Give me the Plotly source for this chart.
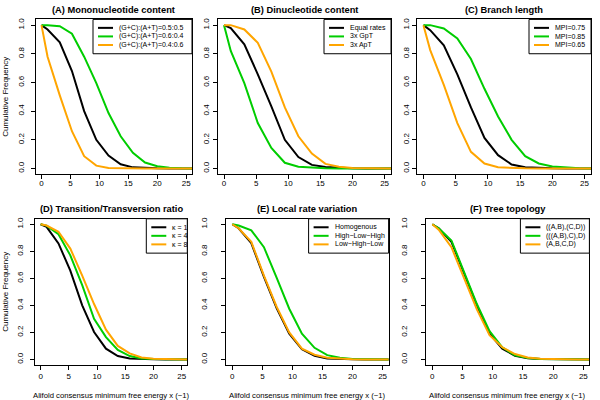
import plotly.graph_objects as go

# ---------------- data ----------------
X = [0, 1.05, 3.16, 5.26, 7.37, 9.47, 11.58, 13.68, 15.79, 17.89, 20.0, 22.1, 24.2, 26.3]

titles = ["(A) Mononucleotide content", "(B) Dinucleotide content", "(C) Branch length",
          "(D) Transition/Transversion ratio", "(E) Local rate variation", "(F) Tree topology"]

labels_A = ["(G+C):(A+T)=0.5:0.5", "(G+C):(A+T)=0.6:0.4", "(G+C):(A+T)=0.4:0.6"]
A_black = [1.0, 0.97, 0.88, 0.68, 0.40, 0.20, 0.09, 0.03, 0.008, 0.003, 0.001, 0, 0, 0]
A_green = [1.0, 1.0, 0.993, 0.94, 0.78, 0.595, 0.387, 0.225, 0.11, 0.042, 0.016, 0.006, 0.002, 0]
A_orange = [1.0, 0.78, 0.51, 0.26, 0.086, 0.02, 0.004, 0.001, 0, 0, 0, 0, 0, 0]

labels_B = ["Equal rates", "3x GpT", "3x ApT"]
B_black = [1.0, 0.98, 0.866, 0.657, 0.433, 0.20, 0.08, 0.025, 0.01, 0.004, 0.001, 0, 0, 0]
B_green = [1.0, 0.82, 0.595, 0.317, 0.143, 0.04, 0.012, 0.004, 0.001, 0, 0, 0, 0, 0]
B_orange = [1.0, 1.0, 0.97, 0.877, 0.676, 0.426, 0.225, 0.104, 0.032, 0.012, 0.004, 0.001, 0, 0]

labels_C = ["MPI=0.75", "MPI=0.85", "MPI=0.65"]
C_black = [1.0, 0.965, 0.86, 0.657, 0.426, 0.213, 0.093, 0.028, 0.009, 0.004, 0.001, 0, 0, 0]
C_green = [1.0, 1.0, 0.977, 0.907, 0.764, 0.556, 0.363, 0.20, 0.086, 0.035, 0.014, 0.005, 0.001, 0]
C_orange = [1.0, 0.826, 0.583, 0.317, 0.116, 0.035, 0.009, 0.003, 0.001, 0, 0, 0, 0, 0]

labels_D = ["\u03ba = 1", "\u03ba = 4", "\u03ba = 8"]
D_black = [1.0, 0.98, 0.858, 0.657, 0.40, 0.203, 0.08, 0.025, 0.007, 0.002, 0.001, 0, 0, 0]
D_green = [1.0, 0.99, 0.926, 0.77, 0.55, 0.30, 0.165, 0.07, 0.025, 0.008, 0.003, 0.001, 0, 0]
D_orange = [1.0, 0.99, 0.944, 0.82, 0.62, 0.41, 0.22, 0.10, 0.045, 0.015, 0.005, 0.002, 0, 0]

labels_E = ["Homogenous", "High\u2212Low\u2212High", "Low\u2212High\u2212Low"]
E_black = [1.0, 0.97, 0.86, 0.61, 0.38, 0.19, 0.075, 0.028, 0.008, 0.003, 0.001, 0, 0, 0]
E_green = [1.0, 0.99, 0.955, 0.83, 0.605, 0.375, 0.19, 0.086, 0.032, 0.012, 0.004, 0.001, 0, 0]
E_orange = [1.0, 0.97, 0.87, 0.62, 0.39, 0.20, 0.08, 0.035, 0.012, 0.004, 0.001, 0, 0, 0]

labels_F = ["((A,B),(C,D))", "(((A,B),C),D)", "(A,B,C,D)"]
F_black = [1.0, 0.97, 0.87, 0.63, 0.40, 0.19, 0.08, 0.028, 0.009, 0.003, 0.001, 0, 0, 0]
F_green = [1.0, 0.97, 0.88, 0.65, 0.41, 0.21, 0.09, 0.03, 0.01, 0.003, 0.001, 0, 0, 0]
F_orange = [1.0, 0.96, 0.83, 0.60, 0.37, 0.18, 0.09, 0.04, 0.015, 0.005, 0.002, 0, 0, 0]

x_ticks = [0, 5, 10, 15, 20, 25]
y_ticks = [0.0, 0.2, 0.4, 0.6, 0.8, 1.0]
y_label = "Cumulative Frequency"
x_label = "Alifold consensus minimum free energy x (\u22121)"

colors = ["black", "#00CD00", "#FFA500"]

panels = [
    (labels_A, [A_black, A_green, A_orange]),
    (labels_B, [B_black, B_green, B_orange]),
    (labels_C, [C_black, C_green, C_orange]),
    (labels_D, [D_black, D_green, D_orange]),
    (labels_E, [E_black, E_green, E_orange]),
    (labels_F, [F_black, F_green, F_orange]),
]

# ---------------- layout (pixels) ----------------
W, H = 600, 400
# left, right, top, bottom of each plot box
boxes = [
    (35.7, 192.0, 17.5, 173.1),
    (217.6, 391.0, 17.5, 173.1),
    (417.0, 591.0, 17.5, 173.1),
    (35.0, 187.3, 217.9, 364.7),
    (226.3, 388.6, 217.9, 364.7),
    (426.3, 589.4, 217.9, 364.7),
]
y_standoffs = [4, 0, 0, 4, 11, 11]
x_standoffs = [-3, -3, -3, 0, 0, 0]
legend_widths = [99, 67, 62, 41, 80, 69]
legend_height = 34.5

FONT = "Liberation Sans, Arial, Helvetica, sans-serif"

def px(x):
    return x / W

def py(y):
    return 1 - y / H

fig = go.Figure()
shapes = []
annotations = []

for i, ((labels, series), box) in enumerate(zip(panels, boxes)):
    n = i + 1
    xa = "x" if n == 1 else f"x{n}"
    ya = "y" if n == 1 else f"y{n}"
    for lab, vals, col in zip(labels, series, colors):
        fig.add_trace(go.Scatter(x=X, y=vals, mode="lines", name=lab,
                                 line=dict(color=col, width=2),
                                 xaxis=xa, yaxis=ya, showlegend=False,
                                 hoverinfo="skip"))
    l, r, t, b = box
    axis_common = dict(showline=True, mirror=True, linecolor="black", linewidth=1,
                       ticks="outside", ticklen=4, tickcolor="black", tickwidth=1,
                       showgrid=False, zeroline=False,
                       tickfont=dict(family=FONT, size=8, color="black"))
    fig.layout[f"xaxis{'' if n == 1 else n}"] = dict(
        domain=[px(l), px(r)], range=[-1, 26], anchor=ya,
        ticklabelstandoff=x_standoffs[i],
        tickvals=x_ticks, ticktext=[str(v) for v in x_ticks], **axis_common)
    fig.layout[f"yaxis{'' if n == 1 else n}"] = dict(
        domain=[py(b), py(t)], range=[-0.04, 1.04], anchor=xa,
        ticklabelstandoff=y_standoffs[i],
        tickvals=y_ticks, ticktext=[f"{v:.1f}" for v in y_ticks], tickangle=-90,
        **axis_common)

    # title
    annotations.append(dict(text=f"<b>{titles[i]}</b>", x=px((l + r) / 2), y=py(t - 9.5),
                            xref="paper", yref="paper", showarrow=False,
                            xanchor="center", yanchor="middle",
                            font=dict(family=FONT, size=9.3, color="black")))
    # legend box
    lw = legend_widths[i]
    lx0 = r - lw
    shapes.append(dict(type="rect", xref="paper", yref="paper",
                       x0=px(lx0), x1=px(r), y0=py(t + legend_height), y1=py(t),
                       line=dict(color="black", width=1), fillcolor="white", layer="above"))
    for k, (lab, col) in enumerate(zip(labels, colors)):
        yy = t + 8.5 + k * 8.6
        shapes.append(dict(type="line", xref="paper", yref="paper",
                           x0=px(lx0 + 5), x1=px(lx0 + 20), y0=py(yy), y1=py(yy),
                           line=dict(color=col, width=2), layer="above"))
        annotations.append(dict(text=lab, x=px(lx0 + 24), y=py(yy),
                                xref="paper", yref="paper", showarrow=False,
                                xanchor="left", yanchor="middle",
                                font=dict(family=FONT, size=7, color="black")))
    # axis labels
    if i in (0, 3):
        annotations.append(dict(text=y_label, x=px(6), y=py((t + b) / 2),
                                xref="paper", yref="paper", showarrow=False,
                                textangle=-90, xanchor="center", yanchor="middle",
                                font=dict(family=FONT, size=8, color="black")))
    if i >= 3:
        annotations.append(dict(text=x_label, x=px((l + r) / 2), y=py(395),
                                xref="paper", yref="paper", showarrow=False,
                                xanchor="center", yanchor="middle",
                                font=dict(family=FONT, size=7.7, color="black")))

fig.update_layout(width=W, height=H, margin=dict(l=0, r=0, t=0, b=0),
                  paper_bgcolor="white", plot_bgcolor="white",
                  shapes=shapes, annotations=annotations, showlegend=False)

fig.write_html("out.html",
               config={"displayModeBar": False, "staticPlot": True},
               post_script="document.body.style.margin='0';document.body.style.padding='0';")
